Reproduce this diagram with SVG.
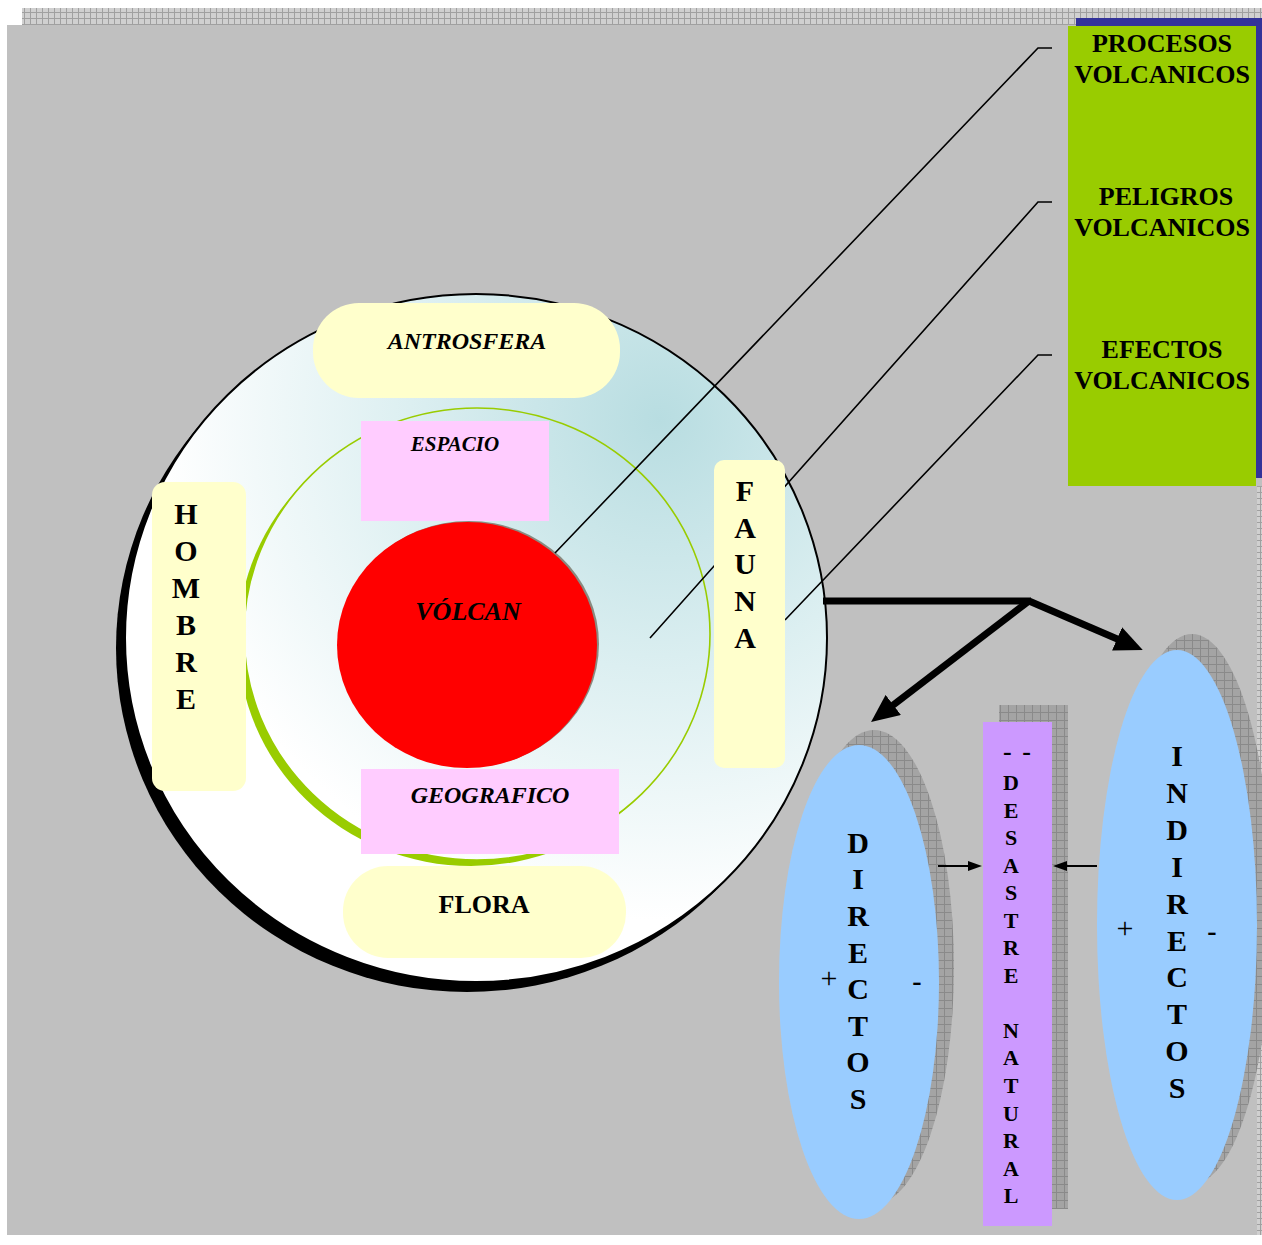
<svg xmlns="http://www.w3.org/2000/svg" width="1262" height="1245" viewBox="0 0 1262 1245">
<defs>
<style>
.t{font-family:"Liberation Serif","Times New Roman",serif;font-weight:bold;fill:#000;text-anchor:middle}
.i{font-style:italic}
.n{font-weight:normal}
.thin{stroke:#000;stroke-width:1.6;fill:none}
.thick{stroke:#000;stroke-width:7;fill:none}
.sm{stroke:#000;stroke-width:2;fill:none}
.yel{fill:#ffffcc}
.pink{fill:#ffccff}
.sky{fill:#99ccff}
</style>
<pattern id="strip" width="6" height="6" patternUnits="userSpaceOnUse">
<rect width="6" height="6" fill="#d0d0d0"/>
<path d="M0,0.5H6M0.5,0V6" stroke="#a0a0a0" stroke-width="1"/>
</pattern>
<pattern id="shadow" width="8" height="8" patternUnits="userSpaceOnUse">
<rect width="8" height="8" fill="#a4a4a4"/>
<path d="M0,0.5H8M0.5,0V8" stroke="#8a8a8a" stroke-width="1"/>
</pattern>
<radialGradient id="sphere" gradientUnits="userSpaceOnUse" cx="660" cy="420" r="500">
<stop offset="0" stop-color="#b8dde1"/>
<stop offset="0.5" stop-color="#dcefF1"/>
<stop offset="1" stop-color="#ffffff"/>
</radialGradient>
<marker id="bigArrow" viewBox="0 0 4 3.6" refX="0.3" refY="1.8" markerWidth="4" markerHeight="3.6" orient="auto">
<path d="M0,0 L4,1.8 L0,3.6 z" fill="#000"/>
</marker>
<marker id="smallArrow" viewBox="0 0 7 5" refX="0.5" refY="2.5" markerWidth="7" markerHeight="5" orient="auto">
<path d="M0,0 L7,2.5 L0,5 z" fill="#000"/>
</marker>
</defs>

<!-- background -->
<rect x="0" y="0" width="1262" height="1245" fill="#ffffff"/>
<rect x="22" y="8" width="1240" height="17" fill="url(#strip)"/>
<rect x="7" y="25" width="1255" height="1210" fill="#c0c0c0"/>
<rect x="1257" y="486" width="5" height="749" fill="url(#strip)"/>

<!-- right panel -->
<g id="panel">
<rect x="1076" y="18" width="186" height="460" fill="#333399"/>
<rect x="1068" y="26" width="188" height="460" fill="#99cc00"/>
<text class="t" font-size="26" x="1162" y="52">PROCESOS</text>
<text class="t" font-size="26" x="1162" y="83">VOLCANICOS</text>
<text class="t" font-size="26" x="1166" y="205">PELIGROS</text>
<text class="t" font-size="26" x="1162" y="236">VOLCANICOS</text>
<text class="t" font-size="26" x="1162" y="358">EFECTOS</text>
<text class="t" font-size="26" x="1162" y="389">VOLCANICOS</text>
</g>

<!-- main sphere -->
<g id="antrosfera-sphere">
<ellipse cx="467" cy="648" rx="351" ry="344" fill="#000"/>
<ellipse cx="476" cy="638" rx="351" ry="344" fill="url(#sphere)" stroke="#000" stroke-width="2"/>
</g>

<g id="inner-ring">
<ellipse cx="471" cy="640" rx="233" ry="226" fill="#99cc00"/>
<ellipse cx="477" cy="634" rx="233" ry="226" fill="url(#sphere)" stroke="#99cc00" stroke-width="1.6"/>
</g>

<g id="volcan">
<ellipse cx="469" cy="644" rx="130" ry="123" fill="#8a8a80"/>
<ellipse cx="467" cy="645" rx="130" ry="123" fill="#ff0000"/>
<text class="t i" font-size="26" x="468" y="620">VÓLCAN</text>
</g>

<g id="espacio">
<rect x="361" y="421" width="188" height="100" class="pink"/>
<text class="t i" font-size="21" x="455" y="451">ESPACIO</text>
</g>

<g id="geografico">
<rect x="361" y="769" width="258" height="85" class="pink"/>
<text class="t i" font-size="24" x="490" y="803">GEOGRAFICO</text>
</g>

<g id="antrosfera">
<rect x="313" y="303" width="307" height="95" rx="46" class="yel"/>
<text class="t i" font-size="24" x="467" y="349">ANTROSFERA</text>
</g>

<g id="flora">
<rect x="343" y="866" width="283" height="92" rx="45" class="yel"/>
<text class="t" font-size="26" x="484" y="913">FLORA</text>
</g>

<g id="hombre">
<rect x="152" y="482" width="94" height="309" rx="13" class="yel"/>
<text class="t" font-size="30"><tspan x="186" y="524">H</tspan><tspan x="186" y="561">O</tspan><tspan x="186" y="598">M</tspan><tspan x="186" y="635">B</tspan><tspan x="186" y="672">R</tspan><tspan x="186" y="709">E</tspan></text>
</g>

<g id="directos">
<ellipse cx="874" cy="967" rx="80" ry="237" fill="url(#shadow)"/>
<ellipse cx="859" cy="982" rx="80" ry="237" class="sky"/>
<text class="t" font-size="30"><tspan x="858" y="853">D</tspan><tspan x="858" y="889">I</tspan><tspan x="858" y="926">R</tspan><tspan x="858" y="963">E</tspan><tspan x="858" y="999">C</tspan><tspan x="858" y="1036">T</tspan><tspan x="858" y="1072">O</tspan><tspan x="858" y="1109">S</tspan></text>
<text class="t n" font-size="30" x="829" y="988">+</text>
<text class="t" font-size="28" x="917" y="990">-</text>
</g>

<g id="desastre">
<rect x="999" y="705" width="69" height="504" fill="url(#shadow)"/>
<rect x="983" y="722" width="69" height="504" fill="#cc99ff"/>
<text class="t" font-size="26" letter-spacing="2" x="1018" y="760">- -</text>
<text class="t" font-size="22"><tspan x="1011" y="790">D</tspan><tspan x="1011" y="818">E</tspan><tspan x="1011" y="845">S</tspan><tspan x="1011" y="873">A</tspan><tspan x="1011" y="900">S</tspan><tspan x="1011" y="928">T</tspan><tspan x="1011" y="955">R</tspan><tspan x="1011" y="983">E</tspan><tspan x="1011" y="1038">N</tspan><tspan x="1011" y="1065">A</tspan><tspan x="1011" y="1093">T</tspan><tspan x="1011" y="1121">U</tspan><tspan x="1011" y="1148">R</tspan><tspan x="1011" y="1176">A</tspan><tspan x="1011" y="1203">L</tspan></text>
</g>

<g id="indirectos">
<ellipse cx="1192" cy="909" rx="80" ry="275" fill="url(#shadow)"/>
<ellipse cx="1177" cy="925" rx="80" ry="275" class="sky"/>
<text class="t" font-size="30"><tspan x="1177" y="766">I</tspan><tspan x="1177" y="803">N</tspan><tspan x="1177" y="840">D</tspan><tspan x="1177" y="877">I</tspan><tspan x="1177" y="914">R</tspan><tspan x="1177" y="951">E</tspan><tspan x="1177" y="987">C</tspan><tspan x="1177" y="1024">T</tspan><tspan x="1177" y="1061">O</tspan><tspan x="1177" y="1098">S</tspan></text>
<text class="t n" font-size="30" x="1125" y="938">+</text>
<text class="t" font-size="28" x="1212" y="940">-</text>
</g>

<!-- connectors -->
<g id="connectors">
<path class="thin" d="M1052,48 H1038 L555,553"/>
<path class="thin" d="M1052,202 H1038 L650,638"/>
<path class="thin" d="M1052,355 H1038 L785,620"/>
<path class="thick" d="M823,601 H1031"/>
<path class="thick" d="M1029,601 L891.6,706.2" marker-end="url(#bigArrow)"/>
<path class="thick" d="M1029,601 L1119,639.7" marker-end="url(#bigArrow)"/>
<path class="sm" d="M938,866 H969" marker-end="url(#smallArrow)"/>
<path class="sm" d="M1097,866 H1066" marker-end="url(#smallArrow)"/>
</g>

<g id="fauna">
<rect x="714" y="460" width="71" height="308" rx="10" class="yel"/>
<text class="t" font-size="30"><tspan x="745" y="501">F</tspan><tspan x="745" y="538">A</tspan><tspan x="745" y="574">U</tspan><tspan x="745" y="611">N</tspan><tspan x="745" y="648">A</tspan></text>
</g>
</svg>
